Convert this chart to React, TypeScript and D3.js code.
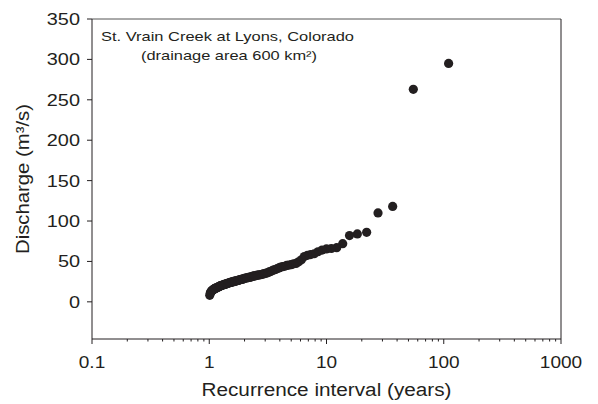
import React from "react";
import * as d3 from "d3";

const recurrence: number[] = [
  110.0, 55.0, 36.67, 27.5, 22.0, 18.33, 15.71, 13.75, 12.22, 11.0,
  10.0, 9.17, 8.46, 7.86, 7.33, 6.88, 6.47, 6.11, 5.79, 5.5,
  5.24, 5.0, 4.78, 4.58, 4.4, 4.23, 4.07, 3.93, 3.79, 3.67,
  3.55, 3.44, 3.33, 3.24, 3.14, 3.06, 2.97, 2.89, 2.82, 2.75,
  2.68, 2.62, 2.56, 2.5, 2.44, 2.39, 2.34, 2.29, 2.24, 2.2,
  2.16, 2.12, 2.08, 2.04, 2.0, 1.96, 1.93, 1.9, 1.86, 1.83,
  1.8, 1.77, 1.75, 1.72, 1.69, 1.67, 1.64, 1.62, 1.59, 1.57,
  1.55, 1.53, 1.51, 1.49, 1.47, 1.45, 1.43, 1.41, 1.39, 1.38,
  1.36, 1.34, 1.33, 1.31, 1.29, 1.28, 1.26, 1.25, 1.24, 1.22,
  1.21, 1.2, 1.18, 1.17, 1.16, 1.15, 1.13, 1.12, 1.11, 1.1,
  1.09, 1.08, 1.07, 1.06, 1.05, 1.04, 1.03, 1.02, 1.01,
];

const discharge: number[] = [
  295, 263, 118, 110, 86, 84, 82, 72, 67, 66,
  65.5, 64, 62, 59.5, 58.5, 57.5, 56, 52, 49.5, 47.5,
  47, 46, 45.5, 45, 44, 43.5, 43, 42, 41, 40,
  39.5, 38.5, 37.5, 37, 36, 35.5, 35, 34.5, 34, 33.5,
  33.5, 33, 33, 32.5, 32, 32, 31.5, 31, 30.5, 30.5,
  30, 30, 29.5, 29.5, 29, 28.5, 28, 28, 27.5, 27.5,
  27, 26.5, 26.5, 26, 26, 25.5, 25.5, 25, 25, 24.5,
  24.5, 24, 24, 23.5, 23.5, 23, 23, 22.5, 22, 22,
  21.5, 21.5, 21, 21, 20.5, 20.5, 20, 20, 19.5, 19,
  19, 18.5, 18, 18, 17.5, 17, 17, 16.5, 16, 16,
  15.5, 15, 14.5, 14, 13.5, 13, 12, 11, 8,
];

const xMajorTicks: number[] = [0.1, 1, 10, 100, 1000];
const xTickLabels: string[] = ["0.1", "1", "10", "100", "1000"];
const yTicks: number[] = [0, 50, 100, 150, 200, 250, 300, 350];

const titleLine1 = "St. Vrain Creek at Lyons, Colorado";
const titleLine2 = "(drainage area 600 km\u00B2)";
const xLabel = "Recurrence interval (years)";
const yLabel = "Discharge (m\u00B3/s)";

export default function App() {
  const left = 92, right = 561, top = 19, bottom = 339;
  const x = d3.scaleLog().domain([0.1, 1000]).range([left, right]);
  const y = d3.scaleLinear().domain([-46, 350]).range([bottom, top]);
  const ink = "#231f20";
  const font = "'Liberation Sans', Arial, Helvetica, sans-serif";

  const minor: number[] = [];
  for (let d = 0.1; d < 1000; d *= 10) {
    for (let k = 2; k <= 9; k++) minor.push(+(d * k).toPrecision(3));
  }

  const points = recurrence.map((t, i) => ({ t, q: discharge[i] }));

  return (
    <svg
      width={598}
      height={404}
      style={{ position: "absolute", left: 0, top: 0, background: "#fff" }}
      fontFamily={font}
    >
      <rect x={0} y={0} width={598} height={404} fill="#fff" />
      {/* frame */}
      <line x1={left} x2={right} y1={top} y2={top} stroke="#555" strokeWidth={1} />
      <line x1={right} x2={right} y1={top} y2={bottom} stroke={ink} strokeWidth={1} />
      <line x1={left} x2={left} y1={top} y2={bottom} stroke={ink} strokeWidth={1} />
      <line x1={left} x2={right} y1={bottom} y2={bottom} stroke={ink} strokeWidth={1} />

      {/* y ticks */}
      {yTicks.map((v) => (
        <g key={"y" + v}>
          <line x1={left - 5} x2={left} y1={y(v)} y2={y(v)} stroke={ink} />
          <text
            transform={`translate(80,${y(v) + 6}) scale(1.17,1)`}
            textAnchor="end"
            fontSize={17}
            fill={ink}
          >
            {v}
          </text>
        </g>
      ))}

      {/* x ticks */}
      {minor.map((v) => (
        <line key={"m" + v} x1={x(v)} x2={x(v)} y1={bottom} y2={bottom + 2.5} stroke={ink} />
      ))}
      {xMajorTicks.map((v, i) => (
        <g key={"x" + v}>
          <line x1={x(v)} x2={x(v)} y1={bottom} y2={bottom + 5} stroke={ink} />
          <text
            transform={`translate(${x(v)},368) scale(1.12,1)`}
            textAnchor="middle"
            fontSize={17}
            fill={ink}
          >
            {xTickLabels[i]}
          </text>
        </g>
      ))}

      {/* axis titles */}
      <text
        x={(left + right) / 2}
        y={396}
        textAnchor="middle"
        fontSize={18}
        fill={ink}
        textLength={250}
        lengthAdjust="spacingAndGlyphs"
      >
        {xLabel}
      </text>
      <text
        transform={`translate(28.5,${(top + bottom) / 2}) rotate(-90)`}
        textAnchor="middle"
        fontSize={18}
        fill={ink}
        textLength={150}
        lengthAdjust="spacingAndGlyphs"
      >
        {yLabel}
      </text>

      {/* annotation */}
      <text x={101} y={41} fontSize={13.5} fill={ink} textLength={253} lengthAdjust="spacingAndGlyphs">
        {titleLine1}
      </text>
      <text x={141} y={59.5} fontSize={13.5} fill={ink} textLength={176} lengthAdjust="spacingAndGlyphs">
        {titleLine2}
      </text>

      {/* points */}
      {points.map((p, i) => (
        <circle key={i} cx={x(p.t)} cy={y(p.q)} r={4.6} fill={ink} />
      ))}
    </svg>
  );
}
